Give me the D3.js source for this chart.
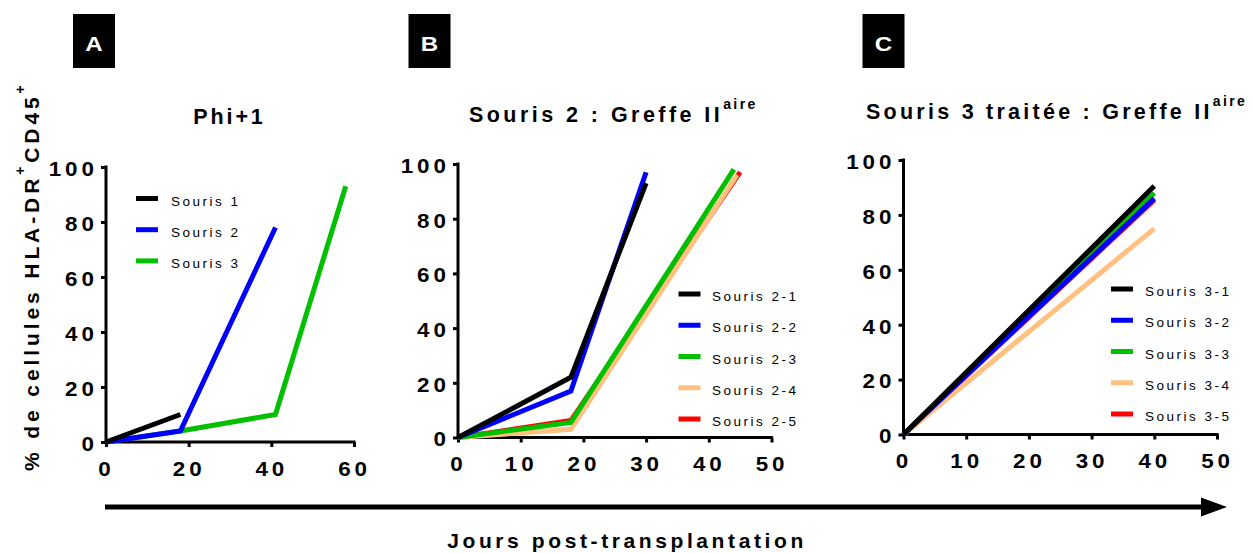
<!DOCTYPE html>
<html><head><meta charset="utf-8">
<script src="https://cdn.jsdelivr.net/npm/d3@7"></script>
<style>
body{margin:0;background:#fff}
svg{display:block}
text{font-family:"Liberation Sans",Arial,Helvetica,sans-serif}
</style>
</head><body>
<svg id="chart" width="1252" height="553"></svg>
<script>
// ---------- data ----------
const yTicks = [0, 20, 40, 60, 80, 100];
const xTicksA = [0, 20, 40, 60];
const xTicksBC = [0, 10, 20, 30, 40, 50];

const namesA = ["Souris 1", "Souris 2", "Souris 3"];
const daysA1 = [0, 18],          pctA1 = [0, 10];
const daysA2 = [0, 18, 41],      pctA2 = [0, 4, 78];
const daysA3 = [0, 18, 41, 58],  pctA3 = [0, 4, 10, 93];

const namesB = ["Souris 2-1", "Souris 2-2", "Souris 2-3", "Souris 2-4", "Souris 2-5"];
const daysB1 = [0, 18, 30],   pctB1 = [0, 22, 93];
const daysB2 = [0, 18, 30],   pctB2 = [0, 17, 97];
const daysB3 = [0, 18, 44],   pctB3 = [0, 5.5, 98];
const daysB4 = [0, 18, 44.5], pctB4 = [0, 3, 96];
const daysB5 = [0, 18, 45],   pctB5 = [0, 6.2, 97];

const namesC = ["Souris 3-1", "Souris 3-2", "Souris 3-3", "Souris 3-4", "Souris 3-5"];
const daysC = [0, 40];
const pctC1 = [0, 90.5], pctC2 = [0, 86], pctC3 = [0, 88], pctC4 = [0, 75], pctC5 = [0, 85.5];

const titleA = "Phi+1";
const titleB = "Souris 2 : Greffe II";
const titleC = "Souris 3 traitée : Greffe II";
const titleSup = "aire";
const panelLetters = ["A", "B", "C"];
const yLabelMain = "% de cellules HLA-DR";
const yLabelMid = "CD45";
const yLabelSup = "+";
const xLabel = "Jours post-transplantation";

// ---------- styles ----------
const colors = ["#000000", "#0000ff", "#00c000", "#ffc080", "#ff0000"];
const BOLD = 700;
const SX_TICK = 1.12;
const SX_BOX = 1.15;

const svg = d3.select("#chart");

function stretch(sel, sx) {
  sel.each(function () {
    const t = d3.select(this);
    const x = +t.attr("x") || 0;
    const prev = t.attr("transform") || "";
    t.attr("x", x / sx).attr("transform", (prev + ` scale(${sx},1)`).trim());
  });
  return sel;
}

function makeSeries(names, daysList, pctList) {
  return names.map((n, i) => ({
    name: n, color: colors[i],
    pts: daysList[i].map((d, j) => [d, pctList[i][j]])
  }));
}

function panel(o) {
  const x = d3.scaleLinear().domain([0, o.xMax]).range([o.left, o.right]);
  const y = d3.scaleLinear().domain([0, 100]).range([o.bottom, o.top]);
  const g = svg.append("g");

  // axes
  const ya = g.append("g").attr("transform", `translate(${o.left},0)`)
    .call(d3.axisLeft(y).tickValues(yTicks).tickSize(5).tickSizeOuter(0));
  const xa = g.append("g").attr("transform", `translate(0,${o.bottom})`)
    .call(d3.axisBottom(x).tickValues(o.xTicks).tickSize(5).tickSizeOuter(0));
  [ya, xa].forEach(a => {
    a.selectAll("path,line").attr("stroke", "#000").attr("stroke-width", 3);
    a.selectAll("text").attr("font-size", 20).attr("font-weight", BOLD)
      .attr("fill", "#000").style("letter-spacing", "3.5px");
  });
  ya.select(".domain").attr("d", `M0,${o.bottom + 1.5}V${o.top - 1.5}`);
  xa.select(".domain").attr("d", `M${o.left - 1.5},0H${o.right + 1.5}`);
  ya.selectAll("text").attr("x", -8.2).attr("y", 8.3).attr("dy", null);
  xa.selectAll("text").attr("x", 0).attr("y", 34).attr("dy", null);
  stretch(ya.selectAll("text"), SX_TICK);
  stretch(xa.selectAll("text"), SX_TICK);

  // lines (last series drawn first, first series on top)
  const line = d3.line().x(d => x(d[0])).y(d => y(d[1]));
  const ser = o.series.slice().reverse();
  g.selectAll("path.s").data(ser).enter().append("path")
    .attr("class", "s").attr("d", d => line(d.pts))
    .attr("fill", "none").attr("stroke", d => d.color)
    .attr("stroke-width", 5).attr("stroke-linejoin", "miter").attr("stroke-linecap", "butt");

  // legend
  const lg = g.selectAll("g.lg").data(o.series).enter().append("g")
    .attr("class", "lg").attr("transform", (d, i) => `translate(${o.legX},${o.legY + i * o.legDy})`);
  lg.append("line").attr("x1", 0).attr("x2", 22).attr("y1", 0).attr("y2", 0)
    .attr("stroke", d => d.color).attr("stroke-width", 5);
  lg.append("text").attr("x", o.legTx).attr("y", 7)
    .attr("font-size", 13.5).style("letter-spacing", "2.5px").text(d => d.name);

  // title
  const t = g.append("text").attr("x", o.titleX).attr("y", o.titleY)
    .attr("font-size", 21.5).attr("font-weight", BOLD).style("letter-spacing", o.titleLs + "px")
    .attr("text-anchor", o.titleAnchor || "start");
  t.append("tspan").text(o.title);
  if (o.sup) {
    t.append("tspan").attr("dy", -13).attr("font-size", 14).style("letter-spacing", "2.4px").text(o.sup);
  }

  // panel letter box
  svg.append("rect").attr("x", o.boxX).attr("y", 14).attr("width", 42).attr("height", 54).attr("fill", "#000");
  const bt = svg.append("text").attr("x", o.boxX + 21).attr("y", 51).attr("text-anchor", "middle")
    .attr("font-size", 21).attr("font-weight", BOLD).attr("fill", "#fff").text(o.letter);
  stretch(bt, SX_BOX);
}

panel({
  left: 106, right: 354, top: 167, bottom: 442, xMax: 60, xTicks: xTicksA,
  series: makeSeries(namesA, [daysA1, daysA2, daysA3], [pctA1, pctA2, pctA3]),
  legX: 136, legY: 198.5, legDy: 31.2, legTx: 35,
  title: titleA, titleX: 229.5, titleY: 124, titleLs: 2.9, titleAnchor: "middle",
  boxX: 73, letter: panelLetters[0]
});
panel({
  left: 458, right: 771.5, top: 164, bottom: 437.5, xMax: 50, xTicks: xTicksBC,
  series: makeSeries(namesB, [daysB1, daysB2, daysB3, daysB4, daysB5], [pctB1, pctB2, pctB3, pctB4, pctB5]),
  legX: 678.5, legY: 294, legDy: 31.25, legTx: 33.5,
  title: titleB, sup: titleSup, titleX: 469, titleY: 122.3, titleLs: 3.45,
  boxX: 408.5, letter: panelLetters[1]
});
panel({
  left: 903.5, right: 1217, top: 160, bottom: 434.5, xMax: 50, xTicks: xTicksBC,
  series: makeSeries(namesC, [daysC, daysC, daysC, daysC, daysC], [pctC1, pctC2, pctC3, pctC4, pctC5]),
  legX: 1111, legY: 289, legDy: 31.25, legTx: 34,
  title: titleC, sup: titleSup, titleX: 866, titleY: 119, titleLs: 3.25,
  boxX: 862.5, letter: panelLetters[2]
});

// y-axis title (rotated), starting from the bottom
const yt = svg.append("text").attr("transform", "translate(39,471) rotate(-90)")
  .attr("text-anchor", "start").attr("font-size", 21).attr("font-weight", BOLD)
  .style("letter-spacing", "3.9px");
yt.append("tspan").text(yLabelMain);
yt.append("tspan").attr("dy", -14).attr("font-size", 14).text(yLabelSup);
yt.append("tspan").attr("dy", 14).text(yLabelMid);
yt.append("tspan").attr("dy", -14).attr("font-size", 14).text(yLabelSup);

// bottom arrow
svg.append("line").attr("x1", 105).attr("x2", 1204).attr("y1", 507).attr("y2", 507)
  .attr("stroke", "#000").attr("stroke-width", 5);
svg.append("path").attr("d", "M1201,497.5L1227,507L1201,516.5Z").attr("fill", "#000");
svg.append("text").attr("x", 627).attr("y", 548).attr("text-anchor", "middle")
  .attr("font-size", 21).attr("font-weight", BOLD).style("letter-spacing", "3.6px").text(xLabel);
</script>
</body></html>
